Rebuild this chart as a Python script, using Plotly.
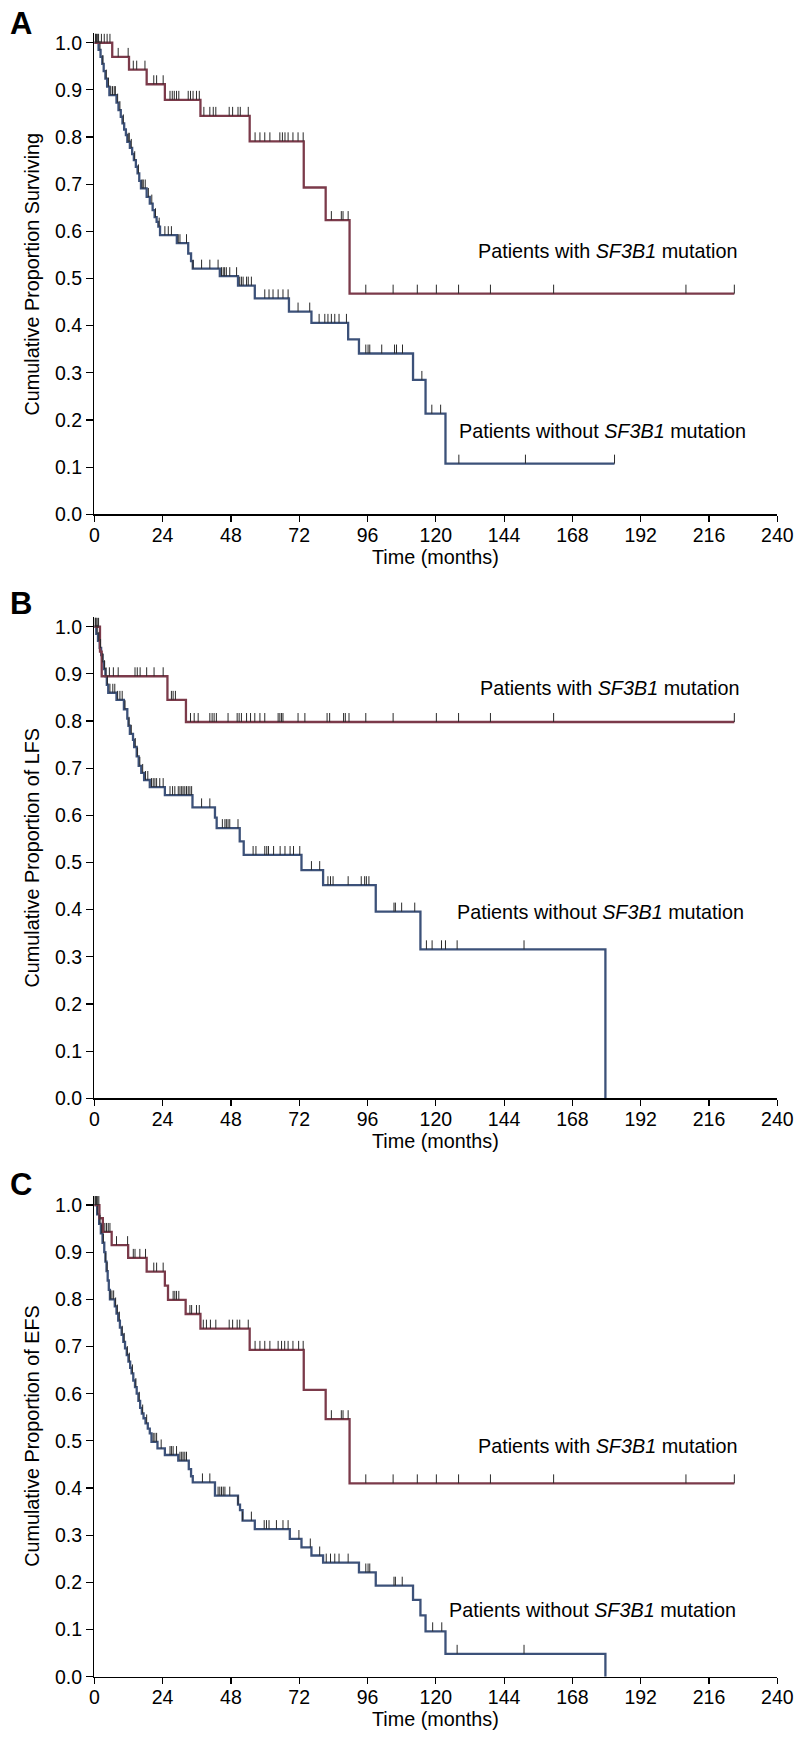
import plotly.graph_objects as go

# ---------------- data (months, cumulative proportion) ----------------
# Panel A: overall survival
A_mut_t = [6.3, 12.2, 18.4, 24.8, 37.3, 54.6, 73.6, 81.3, 89.7]
A_mut_s = [0.970, 0.943, 0.912, 0.879, 0.845, 0.791, 0.693, 0.624, 0.468]
A_mut_end = 224.9
A_mut_cens = [0.5, 1.5, 2.5, 3.5, 4.5, 5.5, 8.4, 11.9, 13.7, 14.9, 17.8, 20.9, 21.9, 24.2,
              26.6, 27.4, 28.1, 28.9, 29.7, 33.0, 33.8, 34.7, 35.9, 36.9, 38.5, 40.6, 41.8,
              42.7, 47.4, 48.6, 50.5, 51.3, 54.1, 56.5, 58.2, 59.9, 61.7, 65.2, 66.1, 67.0,
              68.1, 69.8, 71.6, 73.4, 83.3, 86.8, 87.4, 89.2, 95.4, 105.0, 113.5, 120.2,
              128.0, 139.2, 161.4, 207.9, 224.9]

A_wt_t = [1.5, 2.2, 2.8, 3.3, 3.9, 4.5, 5.3, 7.8, 8.5, 9.3, 9.9, 10.5, 11.1, 11.6,
          12.5, 13.3, 13.9, 14.6, 15.2, 15.8, 16.4, 18.4, 19.5, 20.5, 21.2, 21.9, 22.5, 23.1,
          29.0, 33.0, 34.0, 34.6, 44.1, 50.5, 56.4, 68.4, 76.3, 89.2, 93.0, 112.0, 116.4, 123.4]
A_wt_s = [0.985, 0.970, 0.955, 0.940, 0.924, 0.907, 0.889, 0.873, 0.857, 0.843, 0.829, 0.816,
          0.804, 0.790, 0.777, 0.764, 0.751, 0.737, 0.723, 0.707, 0.691, 0.673, 0.659, 0.645,
          0.630, 0.620, 0.610, 0.592, 0.575, 0.553, 0.537, 0.521, 0.505, 0.485, 0.458, 0.430,
          0.406, 0.371, 0.341, 0.285, 0.2135, 0.1075]
A_wt_end = 182.8
A_wt_cens = [0.4, 0.8, 1.2, 2.0, 3.0, 4.2, 5.0, 5.8, 6.4, 7.0, 7.4, 8.2, 9.0, 10.2, 11.9, 12.3,
             13.0, 14.2, 15.5, 16.8, 17.2, 17.9, 19.0, 20.2, 21.5, 22.8, 24.8, 26.0, 27.1, 29.5,
             30.1, 32.4, 34.7, 37.7, 40.6, 43.5, 44.7, 45.3, 45.8, 46.4, 47.6, 50.0, 51.1, 51.7,
             52.3, 53.5, 54.1, 55.2, 59.9, 61.4, 62.8, 64.6, 66.3, 68.1, 71.6, 75.7, 79.0, 81.0,
             82.1, 83.3, 84.5, 86.0, 88.6, 95.4, 96.2, 96.8, 101.0, 105.5, 106.2, 108.3, 115.1,
             118.6, 121.7, 128.1, 151.5, 182.8]

# Panel B: leukemia-free survival
B_mut_t = [2.0, 2.6, 25.7, 32.2]
B_mut_s = [0.947, 0.895, 0.845, 0.798]
B_mut_end = 224.9
B_mut_cens = [0.5, 1.0, 1.5, 4.1, 5.3, 6.7, 8.4, 14.3, 15.1, 16.1, 18.4, 21.0, 24.2, 27.1, 27.7,
              28.5, 33.8, 35.1, 36.5, 40.6, 41.4, 42.1, 42.9, 47.0, 50.2, 50.9, 51.7, 53.5, 54.9,
              56.4, 58.2, 59.9, 64.6, 65.2, 65.8, 66.3, 71.6, 74.0, 81.8, 82.7, 87.6, 88.2, 89.5,
              95.4, 105.0, 120.2, 128.0, 139.2, 161.4, 224.9]

B_wt_t = [0.7, 1.3, 1.9, 2.4, 2.9, 3.4, 3.9, 4.4, 4.9, 7.8, 10.4, 11.6, 12.0, 12.5, 13.6, 14.0,
          14.9, 15.6, 16.5, 17.5, 19.5, 24.8, 34.5, 42.4, 43.0, 51.1, 52.5, 72.8, 80.4, 98.9,
          114.6, 179.6]
B_wt_s = [0.985, 0.970, 0.955, 0.940, 0.925, 0.910, 0.895, 0.877, 0.860, 0.845, 0.825, 0.805,
          0.790, 0.773, 0.760, 0.745, 0.725, 0.705, 0.690, 0.675, 0.660, 0.643, 0.617, 0.595,
          0.573, 0.545, 0.516, 0.484, 0.452, 0.396, 0.316, 0.0]
B_wt_end = 179.6
B_wt_cens = [0.3, 0.6, 1.0, 1.6, 2.2, 3.0, 3.6, 4.6, 5.5, 6.5, 7.2, 8.2, 9.0, 9.8, 10.8, 12.2,
             13.0, 14.4, 15.2, 16.0, 17.0, 18.0, 18.8, 20.1, 20.7, 21.3, 21.9, 23.0, 24.2, 26.6,
             27.5, 28.3, 29.5, 30.1, 30.7, 31.2, 31.8, 32.4, 33.0, 33.6, 34.2, 37.7, 40.6, 45.0,
             45.9, 46.4, 47.0, 47.6, 50.5, 55.8, 56.8, 59.9, 60.6, 61.2, 63.0, 65.3, 67.0, 68.8,
             70.0, 72.2, 76.3, 79.2, 82.1, 83.0, 83.9, 89.2, 93.8, 95.0, 95.6, 96.5, 105.3, 105.8,
             108.0, 112.6, 116.7, 118.7, 122.0, 123.4, 127.5, 151.0]

# Panel C: event-free survival
C_mut_t = [1.8, 3.0, 6.1, 11.9, 18.4, 24.8, 25.9, 32.1, 37.3, 54.6, 73.6, 81.3, 89.7]
C_mut_s = [0.972, 0.943, 0.915, 0.888, 0.859, 0.829, 0.799, 0.769, 0.738, 0.693, 0.608, 0.546, 0.410]
C_mut_end = 224.9
C_mut_cens = [0.3, 0.8, 1.2, 1.6, 3.7, 4.3, 4.9, 5.5, 7.8, 11.7, 13.7, 14.3, 16.0, 18.0, 20.9,
              21.9, 24.2, 27.7, 28.3, 28.9, 29.7, 33.6, 34.2, 35.9, 36.9, 38.3, 39.4, 40.8, 42.7,
              47.4, 48.6, 50.2, 51.1, 54.1, 56.5, 58.2, 59.9, 61.7, 64.6, 65.8, 66.9, 68.1, 69.8,
              71.8, 73.4, 83.3, 86.8, 87.4, 89.2, 95.4, 105.0, 113.5, 120.2, 128.0, 139.2, 161.4,
              207.9, 224.9]

C_wt_t = [1.0, 1.7, 2.3, 2.9, 3.5, 3.9, 4.3, 4.7, 5.1, 5.5, 7.2, 7.8, 8.4, 9.0, 9.6, 10.2, 10.8,
          11.4, 12.0, 12.6, 13.1, 13.7, 14.3, 14.9, 15.5, 16.1, 16.7, 17.3, 18.0, 18.8, 19.5, 20.1,
          22.2, 24.8, 29.5, 33.2, 34.0, 34.6, 42.4, 50.5, 51.2, 52.1, 56.4, 68.7, 72.8, 76.3, 80.4,
          93.0, 98.9, 112.0, 114.6, 116.4, 123.4, 179.6]
C_wt_s = [0.98, 0.96, 0.94, 0.92, 0.90, 0.88, 0.86, 0.84, 0.82, 0.80, 0.785, 0.77, 0.755, 0.74,
          0.725, 0.71, 0.696, 0.682, 0.668, 0.655, 0.643, 0.628, 0.614, 0.60, 0.585, 0.57, 0.558,
          0.548, 0.537, 0.526, 0.516, 0.498, 0.484, 0.470, 0.458, 0.44, 0.425, 0.412, 0.384, 0.365,
          0.353, 0.331, 0.313, 0.292, 0.274, 0.257, 0.242, 0.221, 0.193, 0.163, 0.130, 0.0963,
          0.0486, 0.0]
C_wt_end = 179.6
C_wt_cens = [0.3, 0.6, 1.2, 2.0, 2.6, 3.2, 4.0, 4.5, 5.6, 6.2, 6.8, 7.5, 8.1, 8.8, 9.8, 10.5,
             11.6, 12.3, 13.4, 14.6, 15.8, 17.0, 18.4, 20.7, 21.3, 21.9, 23.5, 26.6, 27.1, 27.7,
             28.9, 30.1, 30.7, 31.2, 31.8, 32.4, 38.0, 40.6, 43.5, 44.1, 44.7, 45.3, 45.9, 47.6,
             50.5, 52.1, 55.2, 59.7, 60.5, 61.4, 64.0, 66.3, 68.1, 71.9, 75.9, 79.2, 81.5, 83.0,
             84.5, 86.0, 89.2, 95.4, 96.2, 96.8, 105.3, 105.8, 108.2, 118.9, 122.1, 127.5, 151.0]

panel_letters = ["A", "B", "C"]
y_titles = ["Cumulative Proportion Surviving", "Cumulative Proportion of LFS",
            "Cumulative Proportion of EFS"]
x_title = "Time (months)"
label_mut = "Patients with <i>SF3B1</i> mutation"
label_wt = "Patients without <i>SF3B1</i> mutation"
x_ticks = [0, 24, 48, 72, 96, 120, 144, 168, 192, 216, 240]
y_ticks = [0.0, 0.1, 0.2, 0.3, 0.4, 0.5, 0.6, 0.7, 0.8, 0.9, 1.0]

# label anchor positions (months, proportion)
label_pos_mut = [(134.2, 0.559), (135.0, 0.870), (134.0, 0.490)]
label_pos_wt = [(127.5, 0.177), (126.6, 0.394), (124.0, 0.141)]

# ---------------- styling / layout ----------------
W, H = 801, 1756
RED = "#7b3a4a"
BLUE = "#3c5179"
TICKC = "#2a2a2a"
FONT = "Liberation Sans, Arial, Helvetica, sans-serif"
TICK_H = 0.019  # height of censor marks (in proportion units)

x_dom = [94.3 / W, 777.3 / W]
# pixel rows of (top of range, bottom axis) per panel
panel_px = [(33.3, 514.3), (617.3, 1098.3), (1195.6, 1676.7)]
letter_px = [24.0, 603.5, 1184.5]     # vertical centre of panel letters
XTITLE_GAP = 42.4                     # px below axis for "Time (months)"
Y_TOP = 1.02

def step_value(times, surv, t):
    v = 1.0
    for ti, si in zip(times, surv):
        if ti <= t:
            v = si
    return v

def km_trace(times, surv, end, color, xa, ya):
    xs = [0.0] + list(times) + [end]
    ys = [1.0] + list(surv) + [surv[-1]]
    return go.Scatter(x=xs, y=ys, mode="lines", line=dict(color=color, width=2.3, shape="hv"),
                      xaxis=xa, yaxis=ya, showlegend=False, hoverinfo="skip")

def cens_trace(times, surv, cens, xa, ya):
    xs, ys = [], []
    for c in cens:
        v = step_value(times, surv, c)
        xs += [c, c, None]
        ys += [v, v + TICK_H, None]
    return go.Scatter(x=xs, y=ys, mode="lines", line=dict(color=TICKC, width=1),
                      xaxis=xa, yaxis=ya, showlegend=False, hoverinfo="skip")

groups = [
    (A_mut_t, A_mut_s, A_mut_end, A_mut_cens, A_wt_t, A_wt_s, A_wt_end, A_wt_cens),
    (B_mut_t, B_mut_s, B_mut_end, B_mut_cens, B_wt_t, B_wt_s, B_wt_end, B_wt_cens),
    (C_mut_t, C_mut_s, C_mut_end, C_mut_cens, C_wt_t, C_wt_s, C_wt_end, C_wt_cens),
]

fig = go.Figure()
annotations = []
layout_axes = {}
for i, g in enumerate(groups):
    mt, ms, me, mc, wt, ws, we, wc = g
    sfx = "" if i == 0 else str(i + 1)
    xa, ya = "x" + sfx, "y" + sfx
    fig.add_trace(km_trace(wt, ws, we, BLUE, xa, ya))
    fig.add_trace(km_trace(mt, ms, me, RED, xa, ya))
    fig.add_trace(cens_trace(wt, ws, wc, xa, ya))
    fig.add_trace(cens_trace(mt, ms, mc, xa, ya))

    top, bot = panel_px[i]
    layout_axes["xaxis" + sfx] = dict(
        domain=x_dom, anchor=ya, range=[0, 240], tickvals=x_ticks, ticks="outside",
        ticklen=6, tickwidth=1.2, tickcolor="black", showline=True, linecolor="black",
        linewidth=1.3, showgrid=False, zeroline=False, tickfont=dict(size=19.5, color="black"),
        ticklabelstandoff=-3, fixedrange=True, automargin=False)
    layout_axes["yaxis" + sfx] = dict(
        domain=[1 - bot / H, 1 - top / H], anchor=xa, range=[0, Y_TOP], tickvals=y_ticks,
        tickformat=".1f", ticks="outside", ticklen=7, tickwidth=1.2, tickcolor="black",
        showline=True, linecolor="black", linewidth=1.3, showgrid=False, zeroline=False,
        tickfont=dict(size=19.5, color="black"), fixedrange=True, automargin=False)

    # curve labels
    for (lx, ly), txt in ((label_pos_mut[i], label_mut), (label_pos_wt[i], label_wt)):
        annotations.append(dict(x=lx, y=ly, xref=xa, yref=ya, text=txt, showarrow=False,
                                xanchor="left", yanchor="middle",
                                font=dict(size=19.8, color="black")))
    # axis titles
    annotations.append(dict(x=31.7 / W, y=0.51, xref="paper", yref=ya, text=y_titles[i],
                            textangle=-90, showarrow=False, xanchor="center", yanchor="middle",
                            font=dict(size=19.8, color="black")))
    annotations.append(dict(x=120, y=1 - (bot + XTITLE_GAP) / H, xref=xa, yref="paper",
                            text=x_title, showarrow=False, xanchor="center", yanchor="middle",
                            font=dict(size=19.8, color="black")))
    # panel letter
    annotations.append(dict(x=20.5 / W, y=1 - letter_px[i] / H, xref="paper", yref="paper",
                            text="<b>" + panel_letters[i] + "</b>", showarrow=False,
                            xanchor="center", yanchor="middle",
                            font=dict(size=31, color="black")))

fig.update_layout(
    width=W, height=H, margin=dict(l=0, r=0, t=0, b=0),
    paper_bgcolor="white", plot_bgcolor="white",
    font=dict(family=FONT, color="black"),
    showlegend=False, annotations=annotations, **layout_axes)

fig.write_html("out.html", config={"displayModeBar": False, "staticPlot": True},
               post_script="document.body.style.margin='0';document.body.style.padding='0';")
